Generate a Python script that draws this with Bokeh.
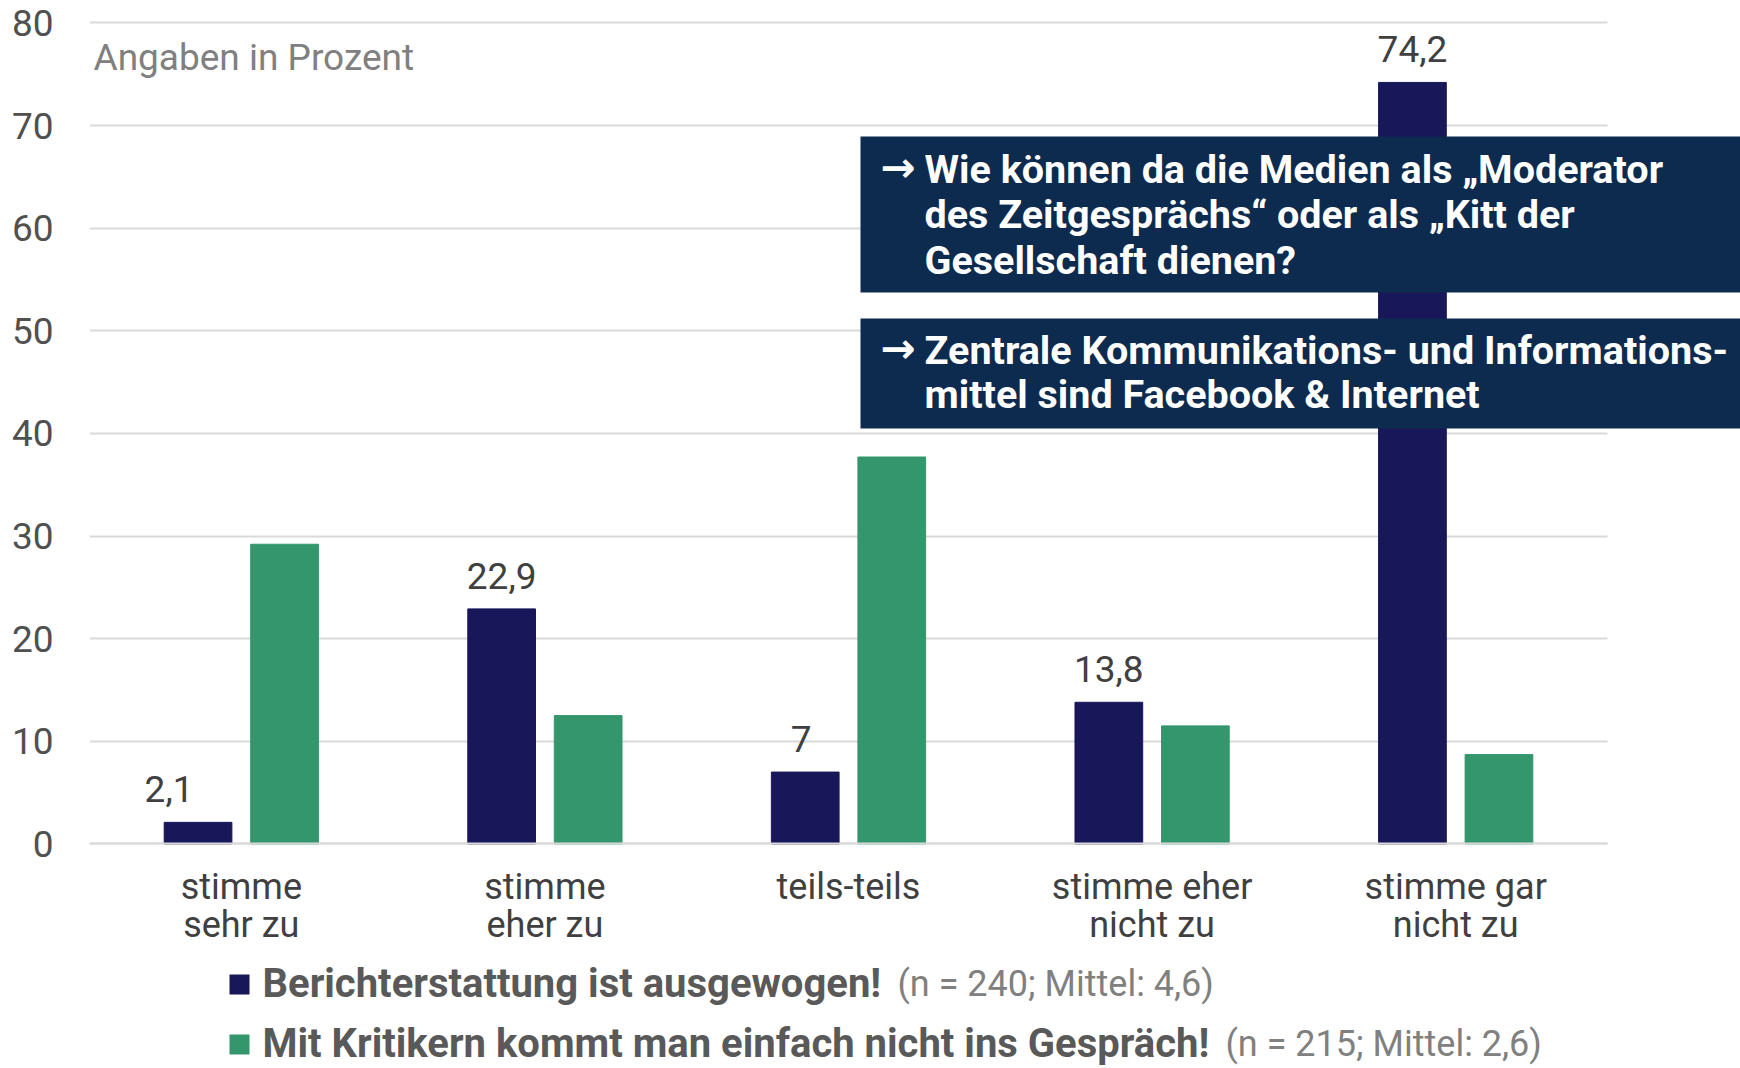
from bokeh.plotting import figure
from bokeh.models import (ColumnDataSource, Range1d, FixedTicker, Grid,
                          BoxAnnotation, Label)
from bokeh.transform import dodge
from bokeh.core.properties import value
from bokeh.embed import file_html
from bokeh.resources import INLINE

# ---------------- data ----------------
categories = ["stimme\nsehr zu", "stimme\neher zu", "teils-teils",
              "stimme eher\nnicht zu", "stimme gar\nnicht zu"]
ausgewogen = [2.1, 22.9, 7.0, 13.8, 74.2]      # Berichterstattung ist ausgewogen!
kritiker = [29.2, 12.5, 37.7, 11.5, 8.7]       # Mit Kritikern kommt man ...
y_ticks = [0, 10, 20, 30, 40, 50, 60, 70, 80]

series_names = ["Berichterstattung ist ausgewogen!",
                "Mit Kritikern kommt man einfach nicht ins Gespräch!"]
series_notes = ["(n = 240; Mittel: 4,6)", "(n = 215; Mittel: 2,6)"]
box_texts = [["Wie können da die Medien als „Moderator",
              "des Zeitgesprächs“ oder als „Kitt der",
              "Gesellschaft dienen?"],
             ["Zentrale Kommunikations- und Informations-",
              "mittel sind Facebook & Internet"]]
unit_note = "Angaben in Prozent"

# ---------------- style / layout ----------------
NAVY = "#18175A"
GREEN = "#33966C"
BOXC = "#0D2A4F"
GRID = "#D9D9D9"
FONT = "Roboto"

W, H = 1740, 1068
FRAME_L, FRAME_T = 89, 20          # page px of frame left / top
PX_PER_CAT = 303.6                 # px per category slot
PX_PER_PCT = 821.0 / 80.0          # px per percent
Y0_PX = 843.4                      # page px of the 0 line
NCAT = len(categories)
X_START = -0.5
X_END = X_START + (W - FRAME_L) / PX_PER_CAT
Y_TOP = (Y0_PX - FRAME_T) / PX_PER_PCT
Y_BOT = -(H - Y0_PX) / PX_PER_PCT
BL = 12                            # svg baseline correction (px)


def px_x(px):
    return X_START + (px - FRAME_L) / PX_PER_CAT


def px_y(py):
    return (Y0_PX - py) / PX_PER_PCT


def fmt(v):
    return f"{v:g}".replace(".", ",")


xs = list(range(NCAT))
src = ColumnDataSource(dict(
    x=xs,
    a=ausgewogen,
    k=kritiker,
    lbl=[fmt(v) for v in ausgewogen],
    dx=[-29, 0, -4, 0, 0],
))

p = figure(x_range=Range1d(X_START, X_END), y_range=Range1d(Y_BOT, Y_TOP),
           width=W, height=H, output_backend="svg", toolbar_location=None,
           min_border=0, min_border_left=FRAME_L, min_border_top=FRAME_T,
           min_border_right=0, min_border_bottom=0)
p.outline_line_color = None
p.background_fill_color = "white"
p.border_fill_color = "white"

# grid
p.xgrid.grid_line_color = None
p.ygrid.grid_line_color = GRID
p.ygrid.grid_line_width = 2
p.ygrid.ticker = FixedTicker(ticks=y_ticks)
has_cross = "cross_bounds" in Grid.properties()
if has_cross:
    p.ygrid.cross_bounds = (X_START, X_START + NCAT)

# y axis
p.yaxis.ticker = FixedTicker(ticks=y_ticks)
p.yaxis.bounds = (0, 80)
p.yaxis.axis_line_color = None
p.yaxis.major_tick_line_color = None
p.yaxis.minor_tick_line_color = None
p.yaxis.major_tick_out = 0
p.yaxis.major_label_standoff = 36
p.yaxis.major_label_text_font = FONT
p.yaxis.major_label_text_font_size = "37px"
p.yaxis.major_label_text_color = "#505050"

# x axis (categories) sitting on the 0 line
p.xaxis.ticker = FixedTicker(ticks=xs)
p.xaxis.major_label_overrides = {i: c for i, c in zip(xs, categories)}
p.xaxis.fixed_location = 0
p.xaxis.bounds = (X_START, X_START + NCAT)
p.xaxis.axis_line_color = GRID
p.xaxis.axis_line_width = 2
p.xaxis.major_tick_line_color = None
p.xaxis.minor_tick_line_color = None
p.xaxis.major_tick_out = 0
p.xaxis.major_tick_in = 0
p.xaxis.major_label_standoff = 22
p.xaxis.major_label_text_font = FONT
p.xaxis.major_label_text_font_size = "36px"
p.xaxis.major_label_text_color = "#404040"
p.xaxis.major_label_text_line_height = 0.9

if not has_cross:
    p.add_layout(BoxAnnotation(left=X_START + NCAT, right=X_END, top=Y_TOP,
                               bottom=Y_BOT, fill_color="white",
                               fill_alpha=1.0, line_color=None,
                               level="underlay"))

p.vbar(x=dodge("x", -0.1425), top="a", width=0.223,
       source=src, fill_color=NAVY, line_color=NAVY)
p.vbar(x=dodge("x", 0.1425), top="k", width=0.223,
       source=src, fill_color=GREEN, line_color=GREEN)

p.text(x=dodge("x", -0.1425), y="a", text="lbl",
       x_offset="dx", y_offset=-33, source=src,
       text_align="center", text_baseline="alphabetic",
       text_font=value(FONT), text_font_size="37px", text_color="#404040")

p.add_layout(Label(x=px_x(93), y=px_y(69 - BL), text=unit_note,
                   text_font=FONT, text_font_size="37px", text_color="#808080",
                   text_align="left", text_baseline="alphabetic"))

# callout boxes
boxes = [(136, 292, 167, [181, 226, 271.5]), (318, 428, 348, [362, 406])]
for (top, bottom, arrow_c, baselines), lines in zip(boxes, box_texts):
    p.add_layout(BoxAnnotation(left=px_x(860), right=X_END,
                               top=px_y(top), bottom=px_y(bottom),
                               fill_color=BOXC, fill_alpha=1.0,
                               line_color=None))
    p.add_layout(Label(x=px_x(880), y=px_y(arrow_c), text="→",
                       text_font="DejaVu Sans", text_font_style="bold",
                       text_font_size="42px", text_color="white",
                       text_align="left", text_baseline="alphabetic"))
    for bl, line in zip(baselines, lines):
        p.add_layout(Label(x=px_x(924), y=px_y(bl - BL), text=line,
                           text_font=FONT, text_font_style="bold",
                           text_font_size="39.5px", text_color="white",
                           text_align="left", text_baseline="alphabetic"))

# legend rows
legend_rows = [(NAVY, 995, 897), (GREEN, 1055, 1225)]
for (col, bl, note_x), name, note in zip(legend_rows, series_names, series_notes):
    p.add_layout(BoxAnnotation(left=px_x(229), right=px_x(249),
                               top=px_y(bl - 21), bottom=px_y(bl - 1),
                               fill_color=col, fill_alpha=1.0, line_color=None))
    p.add_layout(Label(x=px_x(262), y=px_y(bl - BL), text=name,
                       text_font=FONT, text_font_style="bold",
                       text_font_size="40px", text_color="#595959",
                       text_align="left", text_baseline="alphabetic"))
    p.add_layout(Label(x=px_x(note_x), y=px_y(bl - BL), text=note,
                       text_font=FONT, text_font_size="36px",
                       text_color="#808080",
                       text_align="left", text_baseline="alphabetic"))

open("out.html", "w").write(file_html(p, INLINE))
